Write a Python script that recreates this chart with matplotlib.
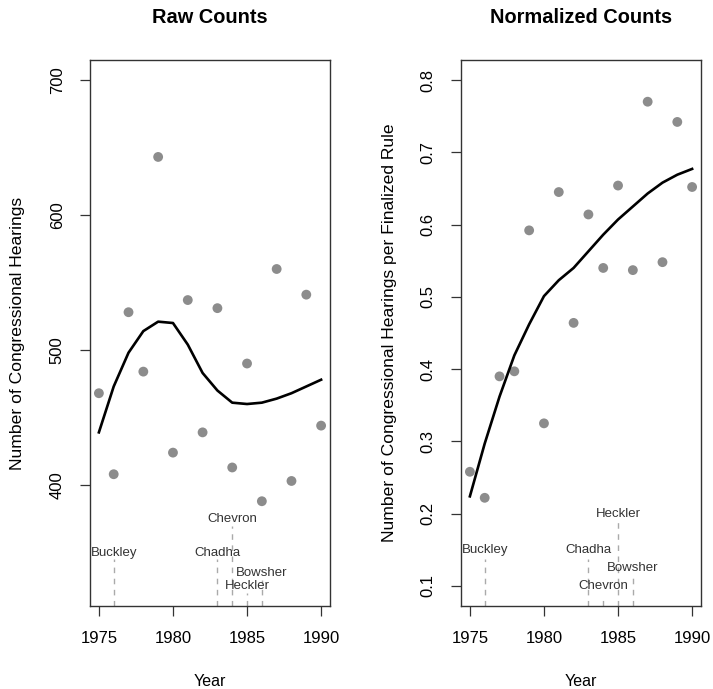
import matplotlib
matplotlib.use("Agg")
import matplotlib.pyplot as plt

plt.rcParams["font.family"] = ["Liberation Sans", "DejaVu Sans"]

years = list(range(1975, 1991))

# raw counts of hearings per year
raw_counts = [468, 408, 528, 484, 643, 424, 537, 439, 531, 413, 490, 388, 560, 403, 541, 444]
raw_smooth = [439, 473, 498, 514, 521, 520, 504, 483, 470, 461, 460, 461, 464, 468, 473, 478]

# hearings per finalized rule
norm_counts = [0.258, 0.222, 0.390, 0.397, 0.592, 0.325, 0.645, 0.464, 0.614, 0.540,
               0.654, 0.537, 0.770, 0.548, 0.742, 0.652]
norm_smooth = [0.224, 0.297, 0.362, 0.419, 0.462, 0.501, 0.523, 0.540, 0.563, 0.586,
               0.607, 0.625, 0.643, 0.658, 0.669, 0.677]

# court decisions marked on both panels
case_names = ["Buckley", "Chadha", "Chevron", "Heckler", "Bowsher"]
case_years = [1976, 1983, 1984, 1985, 1986]
raw_label_y = [350, 350, 375, 325, 335]
norm_label_y = [0.15, 0.15, 0.10, 0.20, 0.125]

POINT_COLOR = "#8c8c8c"
TEXT_COLOR = "#333333"


def style_axes(ax, ylim, yticks, ylabel, title):
    ax.set_xlim(1974.4, 1990.6)
    ax.set_ylim(*ylim)
    ax.set_xticks([1975, 1980, 1985, 1990])
    ax.set_yticks(yticks)
    ax.tick_params(axis="both", direction="out", length=7.2, width=0.9,
                   labelsize=12, color="#333333")
    ax.tick_params(axis="x", pad=11)
    ax.tick_params(axis="y", pad=11)
    for lab in ax.get_yticklabels():
        lab.set_rotation(90)
        lab.set_va("center")
    for sp in ax.spines.values():
        sp.set_color("#333333")
        sp.set_linewidth(1.0)
    ax.set_xlabel("Year", fontsize=11.5)
    ax.set_ylabel(ylabel, fontsize=12.6)
    ax.xaxis.set_label_coords(0.5, -0.139)
    ax.xaxis.label.set_va("center")
    ax.yaxis.label.set_va("center")
    ax.set_title(title, fontsize=14.4, fontweight="bold", y=1.077, va="center", pad=0)


def draw_cases(ax, label_y, offset, bottom):
    for name, yr, ly in zip(case_names, case_years, label_y):
        ax.plot([yr, yr], [bottom, ly - offset], color="#aaaaaa", lw=1.0,
                linestyle=(0, (4, 4)), zorder=1)
        ax.text(yr, ly, name, ha="center", va="center", fontsize=9.5,
                color=TEXT_COLOR, zorder=3)


fig = plt.figure(figsize=(7.13, 6.89), dpi=100)
ax1 = fig.add_axes([90 / 713, 1 - 606 / 689, 240 / 713, 546 / 689])
ax2 = fig.add_axes([461 / 713, 1 - 606 / 689, 240 / 713, 546 / 689])

# left: raw counts
ax1.scatter(years, raw_counts, s=50, color=POINT_COLOR, edgecolors="none", zorder=2)
ax1.plot(years, raw_smooth, color="black", lw=1.9, zorder=3)
draw_cases(ax1, raw_label_y, 5, 310.4)
style_axes(ax1, (310.4, 714.8), [400, 500, 600, 700],
           "Number of Congressional Hearings", "Raw Counts")
ax1.yaxis.set_label_coords(-0.302, 0.5)

# right: normalized counts
ax2.scatter(years, norm_counts, s=50, color=POINT_COLOR, edgecolors="none", zorder=2)
ax2.plot(years, norm_smooth, color="black", lw=1.9, zorder=3)
draw_cases(ax2, norm_label_y, 0.012, 0.0723)
style_axes(ax2, (0.0723, 0.8277), [0.1, 0.2, 0.3, 0.4, 0.5, 0.6, 0.7, 0.8],
           "Number of Congressional Hearings per Finalized Rule", "Normalized Counts")
ax2.yaxis.set_label_coords(-0.296, 0.5)

fig.savefig("out.png", dpi=100)
